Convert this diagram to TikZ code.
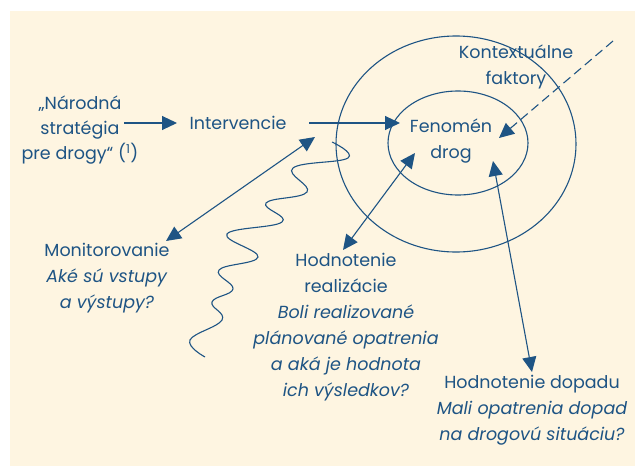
\documentclass[tikz,border=0pt]{standalone}
\usepackage{fontspec}
\setmainfont{Poppins}
\usetikzlibrary{arrows.meta,shapes.geometric}

\definecolor{evalblue}{RGB}{30,84,132}
\definecolor{evalcream}{RGB}{254,245,225}

\tikzset{
  txt/.style={text=evalblue, align=center, inner sep=0pt,
    font=\fontsize{17.5}{26}\selectfont},
  ring/.style={draw=evalblue, ellipse, line width=1.1pt, inner sep=0pt},
  link/.style={draw=evalblue, line width=1.1pt,
    -{Triangle[length=15pt,width=14pt]}},
  twoway/.style={link, {Triangle[length=15pt,width=14pt]}-{Triangle[length=15pt,width=14pt]}},
  factor/.style={link, dash pattern=on 9pt off 5pt},
  wave/.style={draw=evalblue, line width=1.1pt},
}

\begin{document}
\begin{tikzpicture}[x=1pt,y=-1pt]
        \useasboundingbox (0,0) rectangle (635,466);
        \fill[evalcream] (10,11) rectangle (635,466);

        % Context and phenomenon.
        \node[ring, minimum width=240pt, minimum height=216pt] (outer) at (456,144) {};
        \node[ring, minimum width=140pt, minimum height=104pt] (inner) at (458,143) {};
        \node[txt] (fen) at (451,141) {Fenomén\\drog};
        \node[txt] (kon) at (516,67) {Kontextuálne\\faktory};

        % Strategy and interventions.
        \node[txt, font=\fontsize{17.5}{25}\selectfont] (nar) at (80,130)
          {„Národná\\stratégia\\pre drogy“ (\textsuperscript{1})};
        \node[txt] (int) at (238,123) {Intervencie};

        % Evaluation questions.
        \node[txt] (mon) at (107,278)
          {Monitorovanie\\\textit{Aké sú vstupy}\\\textit{a výstupy?}};
        \node[txt] (real) at (346,327)
          {Hodnotenie\\realizácie\\\textit{Boli realizované}\\\textit{plánované opatrenia}\\\textit{a aká je hodnota}\\\textit{ich výsledkov?}};
        \node[txt] (dop) at (532,410)
          {Hodnotenie dopadu\\\textit{Mali opatrenia dopad}\\\textit{na drogovú situáciu?}};

        % Arrow ends.
        \coordinate (narE) at (124,123);
        \coordinate (intW) at (177,123);
        \coordinate (intE) at (309,123);
        \coordinate (fenW) at (400,123);
        \coordinate (konNE) at (613,41);
        \coordinate (fenE) at (499,138);
        \coordinate (monA) at (315,137);
        \coordinate (monB) at (166,241);
        \coordinate (realA) at (415,153);
        \coordinate (realB) at (343,250);
        \coordinate (dopA) at (493,161);
        \coordinate (dopB) at (532,372);

        % Flow.
        \draw[link] (narE) -- (intW);
        \draw[link] (intE) -- (fenW);
        \draw[factor] (konNE) -- (fenE);

        % Evaluation links.
        \draw[twoway] (monB) -- (monA);
        \draw[twoway] (realB) -- (realA);
        \draw[twoway] (dopB) -- (dopA);

        % Wavy line.
        \draw[wave] plot[smooth, tension=0.7] coordinates {(332,142) (348,158) (293,168)
          (307,192) (266,203) (282,222) (227,234) (258,257) (219,270) (233,289)
          (212,302) (222,320) (190,340) (205,357)};
\end{tikzpicture}
\end{document}
